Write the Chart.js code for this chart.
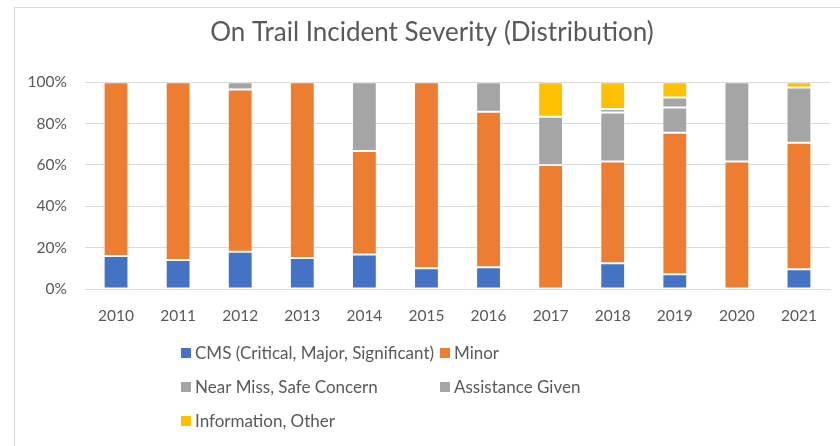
<!DOCTYPE html>
<html>
<head>
<meta charset="utf-8">
<script src="https://cdn.jsdelivr.net/npm/chart.js@4"></script>
<style>
  body { margin: 0; background: #fff; }
  #frame { position: absolute; left: 14px; top: 7px; width: 900px; height: 500px; border: 1px solid #d9d9d9; }
  #wrap { position: absolute; left: 0; top: 0; width: 840px; height: 446px; }
</style>
</head>
<body>
<div id="frame"></div>
<div id="wrap"><canvas id="myChart" width="840" height="446"></canvas></div>
<script>
// Chart data (percent of incidents per year)
const years = ['2010', '2011', '2012', '2013', '2014', '2015', '2016', '2017', '2018', '2019', '2020', '2021'];
const cms = [16, 14, 18, 15, 16.7, 10, 10.5, 0, 12.5, 7.1, 0, 9.5];
const minor = [84, 86, 78.5, 85, 50, 90, 75.2, 60, 49.2, 68.4, 61.7, 61.2];
const nearMiss = [0, 0, 3.5, 0, 33.3, 0, 14.3, 23.3, 23.7, 12.3, 38.3, 26.7];
const assistance = [0, 0, 0, 0, 0, 0, 0, 0, 1.7, 4.8, 0, 0];
const info = [0, 0, 0, 0, 0, 0, 0, 16.7, 12.9, 7.4, 0, 2.6];
const yTicks = [0, 20, 40, 60, 80, 100];

const textColor = '#595959';
const fontFamily = 'Lato, "Open Sans", sans-serif';

// Draws the legend in two columns, like the original
const gridLegend = {
  id: 'gridLegend',
  afterLayout(chart) {
    // nudge the title so it is centred like the original
    chart.titleBlock.left += 20;
  },
  afterDraw(chart) {
    const ctx = chart.ctx;
    const cols = [181, 440];
    const top = chart.chartArea.bottom + 64;
    ctx.save();
    ctx.font = '17px ' + fontFamily;
    ctx.textBaseline = 'middle';
    chart.data.datasets.forEach(function(ds, i) {
      const x = cols[i % 2];
      const y = top + Math.floor(i / 2) * 34;
      ctx.fillStyle = ds.backgroundColor;
      ctx.fillRect(x, y - 5, 10, 10);
      ctx.fillStyle = textColor;
      ctx.fillText(ds.label, x + 14, y + 1);
    });
    ctx.restore();
  }
};

const ctx = document.getElementById('myChart').getContext('2d');

var myChart = new Chart(ctx, {
  type: 'bar',
  data: {
    labels: years,
    datasets: [
      { label: 'CMS (Critical, Major, Significant)', data: cms, backgroundColor: '#4472C4' },
      { label: 'Minor', data: minor, backgroundColor: '#ED7D31' },
      { label: 'Near Miss, Safe Concern', data: nearMiss, backgroundColor: '#A5A5A5' },
      { label: 'Assistance Given', data: assistance, backgroundColor: '#A5A5A5' },
      { label: 'Information, Other', data: info, backgroundColor: '#FFC000' }
    ]
  },
  options: {
    responsive: false,
    animation: false,
    layout: { padding: { top: 17, left: 14, right: 10, bottom: 117 } },
    datasets: {
      bar: {
        barPercentage: 0.4,
        categoryPercentage: 1,
        borderColor: 'rgba(255,255,255,0.45)',
        borderWidth: 1,
        borderSkipped: false
      }
    },
    plugins: {
      legend: { display: false },
      tooltip: { enabled: false },
      title: {
        display: true,
        text: 'On Trail Incident Severity (Distribution)',
        color: textColor,
        font: { family: fontFamily, size: 26, weight: 'normal', lineHeight: 1.2 },
        padding: { top: 0, bottom: 34 }
      }
    },
    scales: {
      x: {
        stacked: true,
        grid: { display: false },
        border: { color: '#d9d9d9', width: 1 },
        ticks: { color: textColor, font: { family: fontFamily, size: 15.5 }, padding: 10 },
        afterFit: function(scale) { scale.height = 40; }
      },
      y: {
        stacked: true,
        min: 0,
        max: 100,
        afterBuildTicks: function(scale) { scale.ticks = yTicks.map(v => ({ value: v })); },
        grid: { color: '#d9d9d9', lineWidth: 1, drawTicks: false },
        border: { display: false },
        ticks: {
          color: textColor,
          font: { family: fontFamily, size: 15.5 },
          padding: 18,
          callback: function(v) { return v + '%'; }
        },
        afterFit: function(scale) { scale.width = 71; }
      }
    }
  },
  plugins: [gridLegend]
});
</script>
</body>
</html>
